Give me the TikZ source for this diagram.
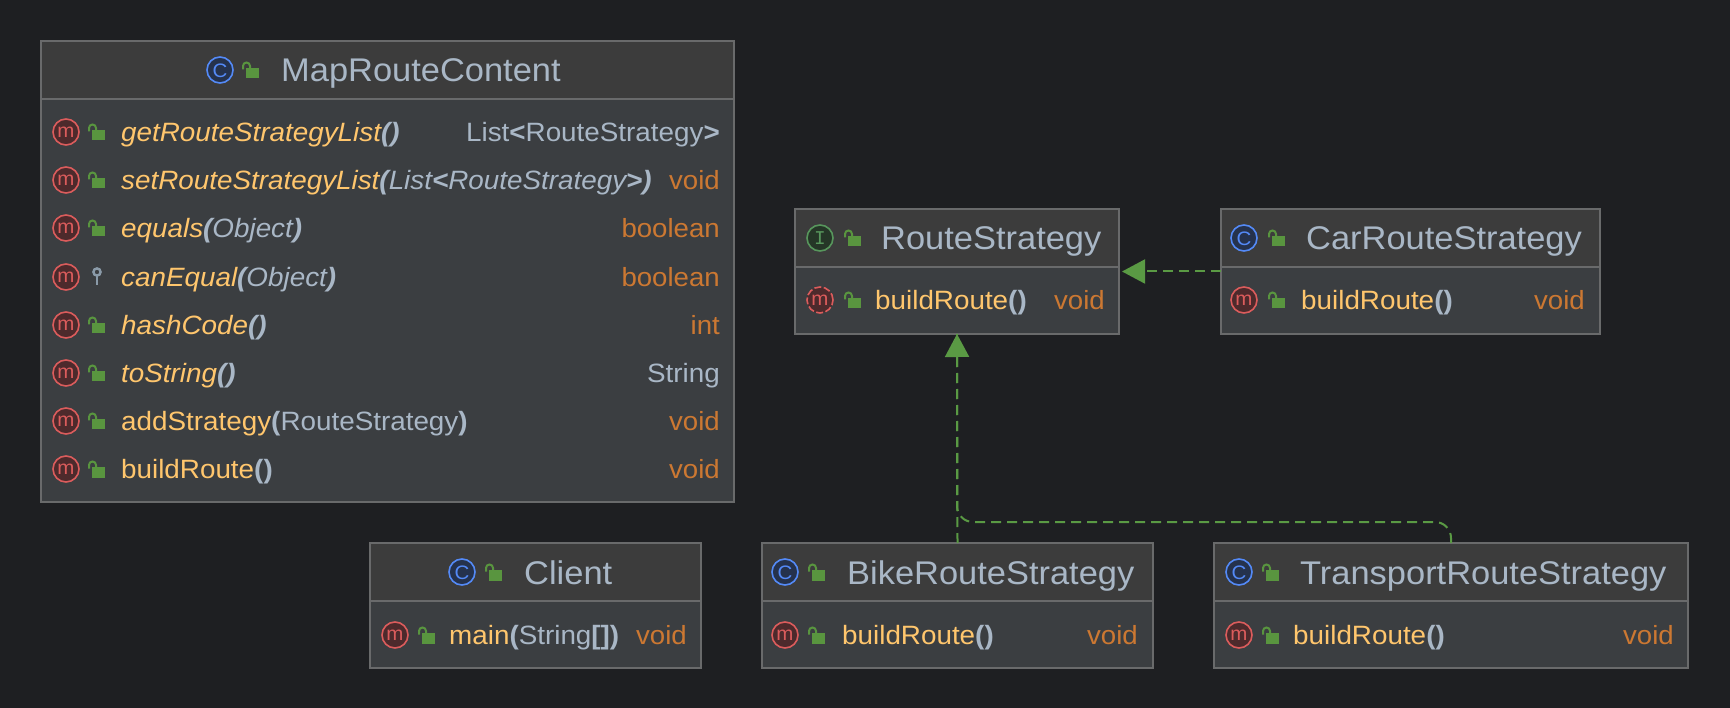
\documentclass[tikz,border=0pt]{standalone}
\usepackage{fontspec}
\usetikzlibrary{arrows.meta}
\setmainfont{Liberation Sans}[FakeStretch=1.05]
\newfontfamily\monof{Liberation Mono}
\definecolor{bgc}{HTML}{1E1F22}
\definecolor{hdc}{HTML}{3C3C3C}
\definecolor{bdc}{HTML}{3B3E41}
\definecolor{brd}{HTML}{696A6B}
\definecolor{ttl}{HTML}{A9B7C6}
\definecolor{mth}{HTML}{FFC66D}
\definecolor{typ}{HTML}{CC7832}
\definecolor{lck}{HTML}{59953F}
\definecolor{redl}{HTML}{DB5C5C}
\definecolor{redf}{HTML}{4D2A2C}
\definecolor{bluel}{HTML}{548AF7}
\definecolor{bluef}{HTML}{25324D}
\definecolor{grnl}{HTML}{57965C}
\definecolor{grnf}{HTML}{253627}
\definecolor{keyc}{HTML}{8A9AA8}
\definecolor{conn}{HTML}{5A9A44}
\newcounter{nn}
\tikzset{
  x=1pt,y=-1pt,
  boxn/.style={fill=bdc,inner sep=0pt,outer sep=0pt},
  brdline/.style={draw=brd,line width=1.8pt},
  titletxt/.style={inner sep=0pt,anchor=base west,text=ttl,font=\fontsize{32.8}{36}\selectfont},
  rowtxt/.style={inner sep=0pt,anchor=base west,text=mth,font=\fontsize{26.5}{30}\selectfont},
  rettxt/.style={inner sep=0pt,anchor=base east,text=typ,font=\fontsize{26.3}{30}\selectfont},
  rettype/.style={inner sep=0pt,anchor=base east,text=ttl,font=\fontsize{26.5}{30}\selectfont},
  iconl/.style={inner sep=0pt,font=\fontsize{19.5}{22}\selectfont},
  dep/.style={draw=conn,line width=2pt,dash pattern=on 10pt off 6pt},
  deptip/.style={-{Triangle[length=23pt,width=24pt,fill=conn]}},
}
\newcommand{\umlbox}[6]{% name x1 y1 x2 y2 headerline
  \pgfmathsetmacro{\cxx}{(#2+#4)/2}\pgfmathsetmacro{\cyy}{(#3+#5)/2}
  \pgfmathsetmacro{\ww}{#4-#2}\pgfmathsetmacro{\hh}{#5-#3}
  \node[boxn,minimum width=\ww pt,minimum height=\hh pt] (#1) at (\cxx,\cyy) {};
  \fill[hdc] (#2,#3) rectangle (#4,#6);
  \draw[brdline] (#2,#6) -- (#4,#6);
  \draw[brdline] (#2,#3) rectangle (#4,#5);
}
\newcommand{\lockic}[2]{%
  \fill[lck] (#1-4,#2-2) rectangle (#1+8.5,#2+8.5);
  \draw[lck,line width=2pt] (#1-7,#2-0.5) -- (#1-7,#2-4) arc[start angle=180,end angle=360,radius=3.5] -- (#1,#2-2);
}
\newcommand{\keyic}[2]{%
  \draw[keyc,line width=2.4pt] (#1+1,#2-5) circle[radius=3.6];
  \draw[keyc,line width=2.4pt] (#1+1,#2-1.4) -- (#1+1,#2+8);
}
\newcommand{\circic}[7]{% x y line fill letter style opts
  \stepcounter{nn}
  \node[circle,draw=#3,fill=#4,line width=1.6pt,minimum size=26pt,inner sep=0pt,#7] (ic\thenn) at (#1,#2) {};
  \node[iconl,text=#3] (il\thenn) at (#1,#2+0.3) {#6#5};
}
\newcommand{\mic}[2]{\circic{#1}{#2}{redl}{redf}{m}{}{}}
\newcommand{\mabs}[2]{\circic{#1}{#2}{redl}{redf}{m}{}{dash pattern=on 7pt off 2.5pt}}
\newcommand{\cic}[2]{\circic{#1}{#2}{bluel}{bluef}{C}{}{}}
\newcommand{\iic}[2]{\circic{#1}{#2}{grnl}{grnf}{I}{\monof}{}}
\newcommand{\ttext}[4]{\stepcounter{nn}\node[#1] (tx\thenn) at (#2,#3) {#4};}
\newcommand{\pn}[1]{{\color{ttl}\bfseries #1}}
\newcommand{\ty}[1]{{\color{ttl}#1}}
\begin{document}
\begin{tikzpicture}
\useasboundingbox (0,0) rectangle (1730,708);
\fill[bgc] (0,0) rectangle (1730,708);
\umlbox{map}{41}{41}{734}{502}{99}
\umlbox{route}{795}{209}{1119}{334}{267}
\umlbox{car}{1221}{209}{1600}{334}{267}
\umlbox{client}{370}{543}{701}{668}{601}
\umlbox{bike}{762}{543}{1153}{668}{601}
\umlbox{trans}{1214}{543}{1688}{668}{601}
% connectors
\coordinate (trup) at (trans.north |- 0,522);
\coordinate (trturn) at (route.south |- 0,522);
\draw[dep,rounded corners=16pt] (trans.north) -- (trup) -- (trturn) -- (route.south);
\draw[dep,deptip] (bike.north) -- (route.south);
\draw[dep,deptip,shorten >=3pt] (car.west) -- (route.east);
% MapRouteContent
\cic{220}{70}\lockic{250}{70}
\ttext{titletxt}{281}{82}{MapRouteContent}
\mic{66}{132}\lockic{96}{132}
\ttext{rowtxt}{121}{141.5}{\itshape getRouteStrategyList\pn{()}}
\ttext{rettype}{720}{141.5}{List\pn{<}RouteStrategy\pn{>}}
\mic{66}{180}\lockic{96}{180}
\ttext{rowtxt}{121}{189.5}{\itshape setRouteStrategyList\pn{(}\ty{List}\pn{<}\ty{RouteStrategy}\pn{>)}}
\ttext{rettxt}{720}{189.5}{void}
\mic{66}{228}\lockic{96}{228}
\ttext{rowtxt}{121}{237.5}{\itshape equals\pn{(}\ty{Object}\pn{)}}
\ttext{rettxt}{720}{237.5}{boolean}
\mic{66}{277}\keyic{96}{277}
\ttext{rowtxt}{121}{286.5}{\itshape canEqual\pn{(}\ty{Object}\pn{)}}
\ttext{rettxt}{720}{286.5}{boolean}
\mic{66}{325}\lockic{96}{325}
\ttext{rowtxt}{121}{334.5}{\itshape hashCode\pn{()}}
\ttext{rettxt}{720}{334.5}{int}
\mic{66}{373}\lockic{96}{373}
\ttext{rowtxt}{121}{382.5}{\itshape toString\pn{()}}
\ttext{rettype}{720}{382.5}{String}
\mic{66}{421}\lockic{96}{421}
\ttext{rowtxt}{121}{430.5}{addStrategy\pn{(}\ty{RouteStrategy}\pn{)}}
\ttext{rettxt}{720}{430.5}{void}
\mic{66}{469}\lockic{96}{469}
\ttext{rowtxt}{121}{478.5}{buildRoute\pn{()}}
\ttext{rettxt}{720}{478.5}{void}
% RouteStrategy
\iic{820}{238}\lockic{852}{238}
\ttext{titletxt}{881}{250}{RouteStrategy}
\mabs{820}{300}\lockic{852}{300}
\ttext{rowtxt}{875}{310}{buildRoute\pn{()}}
\ttext{rettxt}{1105}{310}{void}
% CarRouteStrategy
\cic{1244}{238}\lockic{1276}{238}
\ttext{titletxt}{1306}{250}{CarRouteStrategy}
\mic{1244}{300}\lockic{1276}{300}
\ttext{rowtxt}{1301}{310}{buildRoute\pn{()}}
\ttext{rettxt}{1585}{310}{void}
% Client
\cic{462}{572}\lockic{493}{572}
\ttext{titletxt}{524}{584}{Client}
\mic{395}{635}\lockic{426}{635}
\ttext{rowtxt}{449}{644.5}{main\pn{(}\ty{String}\pn{[])}}
\ttext{rettxt}{687}{644.5}{void}
% BikeRouteStrategy
\cic{785}{572}\lockic{816}{572}
\ttext{titletxt}{847}{584}{BikeRouteStrategy}
\mic{785}{635}\lockic{816}{635}
\ttext{rowtxt}{842}{644.5}{buildRoute\pn{()}}
\ttext{rettxt}{1138}{644.5}{void}
% TransportRouteStrategy
\cic{1239}{572}\lockic{1270}{572}
\ttext{titletxt}{1300}{584}{TransportRouteStrategy}
\mic{1239}{635}\lockic{1270}{635}
\ttext{rowtxt}{1293}{644.5}{buildRoute\pn{()}}
\ttext{rettxt}{1674}{644.5}{void}
\end{tikzpicture}
\end{document}
